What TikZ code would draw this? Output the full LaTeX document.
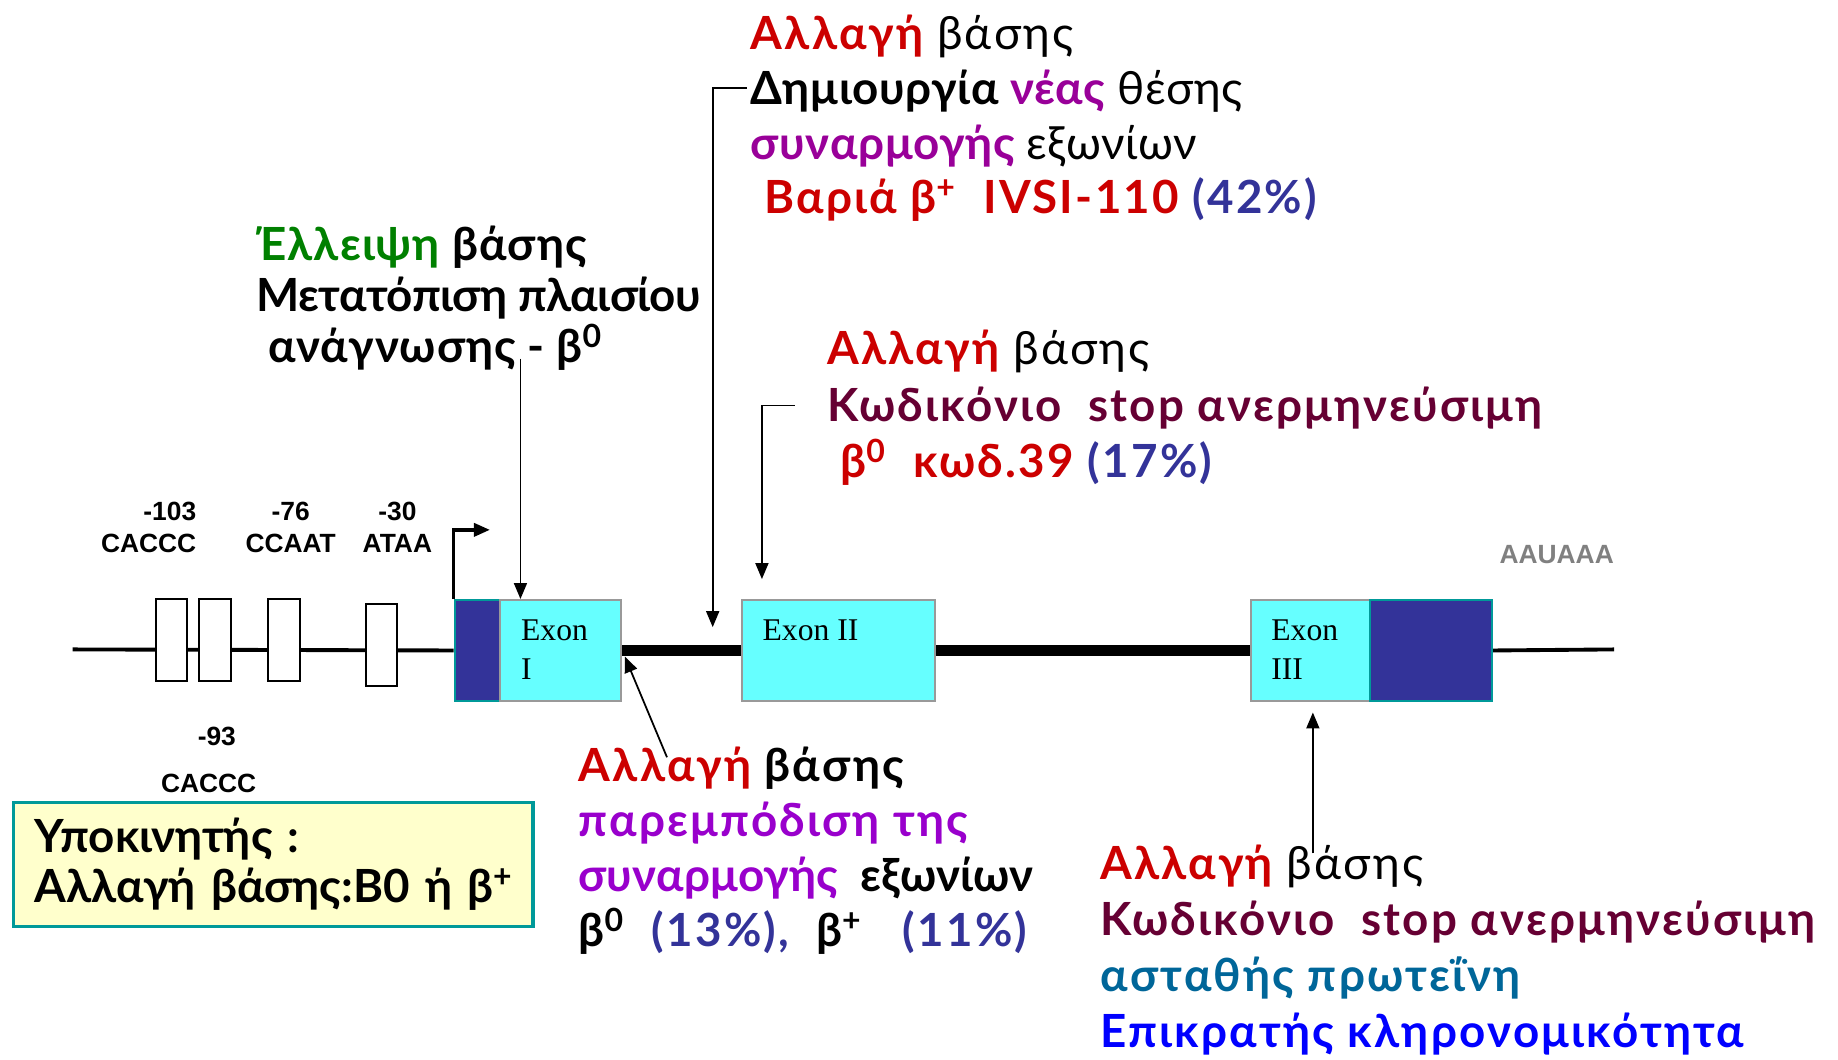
\documentclass[tikz,border=0pt]{standalone}
\usepackage{fontspec}
\setmainfont{Lato}
\newfontfamily\labelfont{Liberation Sans}
\newfontfamily\exonfont{Liberation Serif}
\usetikzlibrary{arrows.meta,backgrounds}

\definecolor{mutred}{HTML}{CC0000}
\definecolor{splpurple}{HTML}{990099}
\definecolor{blockpurple}{HTML}{9900CC}
\definecolor{stopmaroon}{HTML}{660033}
\definecolor{pctblue}{HTML}{333399}
\definecolor{delgreen}{HTML}{008000}
\definecolor{unstable}{HTML}{006699}
\definecolor{domblue}{HTML}{0000FF}
\definecolor{exoncyan}{HTML}{66FFFF}
\definecolor{utrblue}{HTML}{333399}
\definecolor{promyellow}{HTML}{FFFFCC}
\definecolor{promborder}{HTML}{009999}

\newcommand\pxu{0.011722cm}
\newcommand\spaced[2]{{\addfontfeatures{LetterSpace=#1}#2}}

\begin{document}
\begin{tikzpicture}
	[
		x=\pxu, y=-\pxu,
		site/.style = {shape=rectangle, draw=black, line width=0.6pt, fill=white, anchor=north west, inner sep=0pt, minimum width=27*\pxu, minimum height=70*\pxu},
		exon/.style = {shape=rectangle, draw=gray!80, line width=0.6pt, fill=exoncyan, anchor=north west, inner sep=0pt, minimum height=86*\pxu},
		utr/.style = {exon, draw=promborder, fill=utrblue},
		exonlabel/.style = {anchor=north west, inner sep=0pt, align=left, font=\exonfont\fontsize{9}{11}\selectfont},
		sitelabel/.style = {inner sep=0pt, align=center, font=\labelfont\bfseries\fontsize{7.5}{9}\selectfont},
		note/.style = {anchor=north west, inner sep=0pt, align=left, font=\bfseries\fontsize{13}{15.6}\selectfont\addfontfeatures{LetterSpace=5}},
		flank/.style = {line width=1.1pt},
		intron/.style = {line width=3pt},
		pointer/.style = {line width=0.5pt, -{Triangle[length=1.6mm, width=1.3mm]}}
	]
	
	\useasboundingbox (0,0) rectangle (1568,904);
	
	% promoter elements
	\node [site] (s103) at (132,510) {};
	\node [site] (s93) at (169,510) {};
	\node [site] (s76) at (228,510) {};
	\node [site] (s30) at (311,514) {};
	
	\node [sitelabel, align=right, anchor=east] (l103) at (168,450) {-103\\CACCC};
	\node [sitelabel] (l76) at (248,450) {-76\\CCAAT};
	\node [sitelabel] (l30) at (339,450) {-30\\ATAA};
	\node [sitelabel] (l93a) at (185,628) {-93};
	\node [sitelabel] (l93b) at (178,668) {CACCC};
	
	% gene
	\node [utr, minimum width=39*\pxu] (utr5) at (387,511) {};
	\node [exon, minimum width=103*\pxu] (exonI) at (426,511) {};
	\node [exon, minimum width=165*\pxu] (exonII) at (632,511) {};
	\node [exon, minimum width=102*\pxu] (exonIII) at (1066,511) {};
	\node [utr, minimum width=104*\pxu] (utr3) at (1168,511) {};
	
	\node [exonlabel] (tI) at ([xshift=18*\pxu, yshift=-17*\pxu]exonI.north west) {Exon\\I};
	\node [exonlabel] (tII) at ([xshift=18*\pxu, yshift=-17*\pxu]exonII.north west) {Exon II};
	\node [exonlabel] (tIII) at ([xshift=18*\pxu, yshift=-17*\pxu]exonIII.north west) {Exon\\III};
	
	\node [sitelabel, text=gray] (polya) at (1328,473) {AAUAAA};
	
	\coordinate (left) at (62,554);
	\coordinate (right) at (1377,554);
	\begin{pgfonlayer}{background}
		\draw [flank] (left) -- (utr5.west);
	\end{pgfonlayer}
	\draw [flank] (utr3.east) -- (right);
	\draw [intron] (exonI.east) -- (exonII.west);
	\draw [intron] (exonII.east) -- (exonIII.west);
	
	\coordinate (tss) at (418,452);
	\draw [pointer, line width=1pt] (utr5.north west) |- (tss);
	
	% mutations
	\node [note] (splice) at (640,12) {{\color{mutred}Αλλαγή} {\mdseries βάσης}\\
		\spaced{1.5}{Δημιουργία {\color{splpurple}νέας} {\mdseries θέσης}}\\
		\spaced{1.5}{{\color{splpurple}συναρμογής} {\mdseries εξωνίων}}\\
		\ {\color{mutred}Βαριά β\textsuperscript{+}\ \ IVSI-110} {\color{pctblue}(42\%)}};
	
	\node [note, font=\bfseries\fontsize{13}{14.6}\selectfont] (frame) at (218,192) {\spaced{2.4}{{\color{delgreen}Έλλειψη} βάσης}\\
		\spaced{-1}{Μετατόπιση πλαισίου}\\
		\spaced{2}{\ ανάγνωσης - β\textsuperscript{0}}};
	
	\node [note, font=\bfseries\fontsize{13}{16.1}\selectfont\addfontfeatures{LetterSpace=5}] (codon) at (705,281) {{\color{mutred}Αλλαγή} {\mdseries βάσης}\\
		{\color{stopmaroon}Κωδικόνιο\ \ stop ανερμηνεύσιμη}\\
		\ {\color{mutred}β\textsuperscript{0}\ \ κωδ.39} {\color{pctblue}(17\%)}};
	
	\node [note] (block) at (493,637) {{\color{mutred}Αλλαγή} βάσης\\
		{\color{blockpurple}παρεμπόδιση της}\\
		\spaced{0.5}{{\color{blockpurple}συναρμογής}\ \ εξωνίων}\\
		β\textsuperscript{0}\ \ {\color{pctblue}(13\%),}\ \ β\textsuperscript{+}\ \ \ {\color{pctblue}(11\%)}};
	
	\node [note, font=\bfseries\fontsize{13}{16}\selectfont\addfontfeatures{LetterSpace=5}] (dominant) at (938,720) {{\color{mutred}Αλλαγή} {\mdseries βάσης}\\
		{\color{stopmaroon}Κωδικόνιο\ \ stop ανερμηνεύσιμη}\\
		{\color{unstable}ασταθής πρωτεΐνη}\\
		{\color{domblue}Επικρατής κληρονομικότητα}};
	
	\node [note, font=\bfseries\fontsize{13}{14.3}\selectfont\addfontfeatures{LetterSpace=0}, anchor=north west, draw=promborder, fill=promyellow, line width=1pt, text width=425*\pxu, inner xsep=9*\pxu, minimum height=106*\pxu] (promoter) at (10,683) {\hspace*{0.105cm}Υποκινητής :\\\hspace*{0.105cm}Αλλαγή βάσης:Β0 ή β\textsuperscript{+}};
	
	% pointers
	\coordinate (delx) at (444,306);
	\draw [pointer] (delx) -- (delx |- exonI.north);
	
	\coordinate (ivsstart) at (637,75);
	\coordinate (ivstip) at (608,535);
	\draw [pointer] (ivsstart) -| (ivstip);
	
	\coordinate (c39start) at (678,346);
	\coordinate (c39tip) at (650,494);
	\draw [pointer] (c39start) -| (c39tip);
	
	\coordinate (blockstart) at (569,646);
	\coordinate (blocktip) at (533,560);
	\draw [pointer] (blockstart) -- (blocktip);
	
	\coordinate (domstart) at (1120,728);
	\draw [pointer] (domstart) -- ([yshift=-9*\pxu]exonIII.south -| domstart);
	
\end{tikzpicture}
\end{document}
